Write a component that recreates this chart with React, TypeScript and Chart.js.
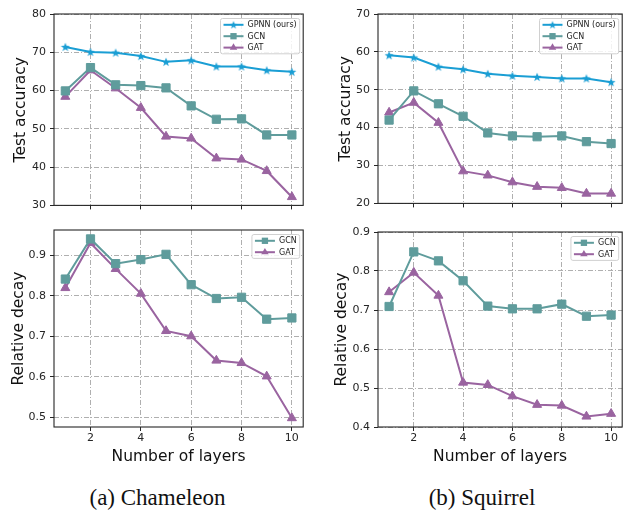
import React, { useEffect, useRef } from 'react';
import { Chart, registerables } from 'chart.js';

Chart.register(...registerables);
Chart.defaults.font.family = '"DejaVu Sans", sans-serif';

// ---------------- data ----------------
const layers = [1, 2, 3, 4, 5, 6, 7, 8, 9, 10];
const xTickValues = [2, 4, 6, 8, 10];

const chamAccGPNN = [71.4, 70.1, 69.9, 69.0, 67.5, 67.9, 66.3, 66.3, 65.3, 64.9];
const chamAccGCN = [59.9, 66.0, 61.5, 61.3, 60.7, 56.0, 52.5, 52.6, 48.4, 48.4];
const chamAccGAT = [58.4, 65.3, 60.6, 55.5, 48.0, 47.5, 42.3, 42.0, 39.0, 32.2];

const sqAccGPNN = [59.1, 58.5, 56.1, 55.4, 54.2, 53.7, 53.4, 53.0, 53.0, 52.0];
const sqAccGCN = [42.0, 49.7, 46.3, 43.0, 38.6, 37.8, 37.6, 37.8, 36.3, 35.8];
const sqAccGAT = [44.0, 46.6, 41.3, 28.5, 27.4, 25.6, 24.4, 24.1, 22.6, 22.6];

const chamDecayGCN = [0.841, 0.94, 0.879, 0.889, 0.902, 0.827, 0.793, 0.796, 0.742, 0.745];
const chamDecayGAT = [0.819, 0.93, 0.866, 0.805, 0.713, 0.7, 0.64, 0.634, 0.601, 0.498];

const sqDecayGCN = [0.709, 0.849, 0.826, 0.775, 0.71, 0.703, 0.703, 0.715, 0.684, 0.687];
const sqDecayGAT = [0.746, 0.796, 0.737, 0.514, 0.508, 0.479, 0.457, 0.455, 0.427, 0.434];

const chamAccTicks = [30, 40, 50, 60, 70, 80];
const sqAccTicks = [20, 30, 40, 50, 60, 70];
const chamDecayTicks = [0.5, 0.6, 0.7, 0.8, 0.9];
const sqDecayTicks = [0.4, 0.5, 0.6, 0.7, 0.8, 0.9];

const seriesLabels = { gpnn: 'GPNN (ours)', gcn: 'GCN', gat: 'GAT' };
const captions = ['(a) Chameleon', '(b) Squirrel'];

// ---------------- styles ----------------
const COLORS = { gpnn: '#1a9ed4', gcn: '#5f9c9c', gat: '#9a64a0' };
const GRID_COLOR = 'rgba(155,155,155,0.8)';
const AXIS_COLOR = '#262626';

function makeStar(color: string, size: number): HTMLCanvasElement {
  const c = document.createElement('canvas');
  c.width = size;
  c.height = size;
  const ctx = c.getContext('2d')!;
  const cx = size / 2;
  const cy = size / 2 + 0.4;
  const R = size / 2 - 0.3;
  const r = R * 0.42;
  ctx.beginPath();
  for (let i = 0; i < 10; i++) {
    const ang = -Math.PI / 2 + (i * Math.PI) / 5;
    const rad = i % 2 === 0 ? R : r;
    const x = cx + rad * Math.cos(ang);
    const y = cy + rad * Math.sin(ang);
    if (i === 0) ctx.moveTo(x, y);
    else ctx.lineTo(x, y);
  }
  ctx.closePath();
  ctx.fillStyle = color;
  ctx.fill();
  return c;
}

const framePlugin = {
  id: 'mplFrame',
  afterDatasetsDraw(chart: any) {
    const { ctx, chartArea: a } = chart;
    ctx.save();
    ctx.strokeStyle = AXIS_COLOR;
    ctx.lineWidth = 1.1;
    ctx.strokeRect(a.left, a.top, a.right - a.left, a.bottom - a.top);
    ctx.restore();
  },
};

function drawMarker(ctx: CanvasRenderingContext2D, style: any, x: number, y: number, color: string, scale: number) {
  ctx.fillStyle = color;
  if (style instanceof HTMLCanvasElement) {
    const w = style.width * scale;
    const h = style.height * scale;
    ctx.drawImage(style, x - w / 2, y - h / 2, w, h);
  } else if (style === 'rect') {
    const s = 7 * scale;
    ctx.fillRect(x - s / 2, y - s / 2, s, s);
  } else if (style === 'triangle') {
    const r = 4.8 * scale;
    ctx.beginPath();
    for (let i = 0; i < 3; i++) {
      const ang = -Math.PI / 2 + (i * 2 * Math.PI) / 3;
      const px = x + r * Math.cos(ang);
      const py = y + r * Math.sin(ang);
      if (i === 0) ctx.moveTo(px, py);
      else ctx.lineTo(px, py);
    }
    ctx.closePath();
    ctx.fill();
  }
}

const legendPlugin = {
  id: 'mplLegend',
  afterDraw(chart: any) {
    const { ctx, chartArea: a } = chart;
    const ds = chart.data.datasets;
    const fs = 8;
    ctx.save();
    ctx.font = `${fs}px "DejaVu Sans"`;
    let tw = 0;
    ds.forEach((d: any) => {
      tw = Math.max(tw, ctx.measureText(d.label).width);
    });
    const padL = 3;
    const handle = 20;
    const gap = 4;
    const padR = 3;
    const rowH = 11.4;
    const w = padL + handle + gap + tw + padR;
    const h = 12.5 + (ds.length - 1) * rowH;
    const x0 = a.right - 3.5 - w;
    const y0 = a.top + 4.5;
    ctx.beginPath();
    if ((ctx as any).roundRect) (ctx as any).roundRect(x0, y0, w, h, 2);
    else ctx.rect(x0, y0, w, h);
    ctx.fillStyle = 'rgba(255,255,255,0.85)';
    ctx.fill();
    ctx.strokeStyle = '#d0d0d0';
    ctx.lineWidth = 1;
    ctx.stroke();
    ds.forEach((d: any, i: number) => {
      const cy = y0 + 6.3 + i * rowH;
      const hx0 = x0 + padL;
      const hx1 = hx0 + handle;
      ctx.strokeStyle = d.borderColor;
      ctx.lineWidth = 2;
      ctx.beginPath();
      ctx.moveTo(hx0, cy);
      ctx.lineTo(hx1, cy);
      ctx.stroke();
      drawMarker(ctx, d.pointStyle, (hx0 + hx1) / 2, cy, d.borderColor, 0.9);
      ctx.fillStyle = '#222';
      ctx.textBaseline = 'middle';
      ctx.textAlign = 'left';
      ctx.fillText(d.label, hx1 + gap, cy + 0.5);
    });
    ctx.restore();
  },
};

type SeriesKey = 'gpnn' | 'gcn' | 'gat';
type PanelCfg = {
  left: number;
  top: number;
  w: number;
  h: number;
  padTop: number;
  padRight: number;
  yWidth: number;
  xHeight: number;
  yTitle: string;
  yTitlePad: number;
  showX: boolean;
  yMin: number;
  yMax: number;
  yTicks: number[];
  decimals: number;
  series: { key: SeriesKey; values: number[] }[];
};

function Panel({ cfg }: { cfg: PanelCfg }) {
  const ref = useRef<HTMLCanvasElement>(null);
  useEffect(() => {
    const star = makeStar(COLORS.gpnn, 10);
    const styleFor = (k: SeriesKey): any => (k === 'gpnn' ? star : k === 'gcn' ? 'rect' : 'triangle');
    const radiusFor = (k: SeriesKey) => (k === 'gpnn' ? 5 : k === 'gcn' ? 5.8 : 5.2);
    const gridBase = {
      color: GRID_COLOR,
      lineWidth: 1,
      drawTicks: true,
      tickLength: 4,
      tickColor: AXIS_COLOR,
      tickWidth: 1,
      tickBorderDash: [],
    };
    const chart = new Chart(ref.current!, {
      type: 'line',
      data: {
        datasets: cfg.series.map((s) => ({
          label: seriesLabels[s.key],
          data: layers.map((x, i) => ({ x, y: s.values[i] })),
          borderColor: COLORS[s.key],
          backgroundColor: COLORS[s.key],
          borderWidth: 2,
          pointStyle: styleFor(s.key),
          pointRadius: radiusFor(s.key),
          pointBackgroundColor: COLORS[s.key],
          pointBorderColor: COLORS[s.key],
          pointBorderWidth: s.key === 'gpnn' ? 0 : 1,
          tension: 0,
          fill: false,
        })),
      },
      options: {
        responsive: false,
        animation: false,
        events: [],
        layout: { padding: { top: cfg.padTop, right: cfg.padRight, left: 0, bottom: 0 } },
        plugins: { legend: { display: false }, tooltip: { enabled: false } },
        scales: {
          x: {
            type: 'linear',
            min: 0.55,
            max: 10.45,
            afterBuildTicks: (s: any) => {
              s.ticks = xTickValues.map((v) => ({ value: v }));
            },
            afterFit: (s: any) => {
              s.height = cfg.xHeight;
            },
            ticks: {
              display: cfg.showX,
              font: { size: 11 },
              color: AXIS_COLOR,
              padding: 1,
              maxRotation: 0,
              autoSkip: false,
              callback: (v: any) => String(v),
            },
            grid: { ...gridBase },
            border: { display: false, dash: [5, 2, 1, 2] },
            title: {
              display: cfg.showX,
              text: 'Number of layers',
              font: { size: 15.5 },
              color: '#111',
              padding: { top: 0, bottom: 0.7 },
            },
          },
          y: {
            type: 'linear',
            min: cfg.yMin,
            max: cfg.yMax,
            afterBuildTicks: (s: any) => {
              s.ticks = cfg.yTicks.map((v) => ({ value: v }));
            },
            afterFit: (s: any) => {
              s.width = cfg.yWidth;
            },
            ticks: {
              font: { size: 11 },
              color: AXIS_COLOR,
              padding: 4,
              autoSkip: false,
              callback: (v: any) => Number(v).toFixed(cfg.decimals),
            },
            grid: { ...gridBase },
            border: { display: false, dash: [5, 2, 1, 2] },
            title: {
              display: true,
              text: cfg.yTitle,
              font: { size: 15.5 },
              color: '#111',
              padding: { top: cfg.yTitlePad, bottom: 0 },
            },
          },
        },
      } as any,
      plugins: [framePlugin, legendPlugin],
    });
    return () => chart.destroy();
  }, [cfg]);
  return (
    <canvas
      ref={ref}
      width={cfg.w}
      height={cfg.h}
      style={{ position: 'absolute', left: cfg.left, top: cfg.top, width: cfg.w, height: cfg.h }}
    />
  );
}

const panels: PanelCfg[] = [
  {
    left: 0, top: 0, w: 310, h: 216, padTop: 14, padRight: 5, yWidth: 54, xHeight: 5,
    yTitle: 'Test accuracy', yTitlePad: 12, showX: false, yMin: 30, yMax: 80, yTicks: chamAccTicks, decimals: 0,
    series: [
      { key: 'gpnn', values: chamAccGPNN },
      { key: 'gcn', values: chamAccGCN },
      { key: 'gat', values: chamAccGAT },
    ],
  },
  {
    left: 0, top: 216, w: 310, h: 251, padTop: 14, padRight: 5, yWidth: 54, xHeight: 40,
    yTitle: 'Relative decay', yTitlePad: 9.5, showX: true, yMin: 0.476, yMax: 0.962, yTicks: chamDecayTicks, decimals: 1,
    series: [
      { key: 'gcn', values: chamDecayGCN },
      { key: 'gat', values: chamDecayGAT },
    ],
  },
  {
    left: 314, top: 0, w: 315, h: 214, padTop: 14, padRight: 1, yWidth: 64, xHeight: 5,
    yTitle: 'Test accuracy', yTitlePad: 22.5, showX: false, yMin: 20, yMax: 70, yTicks: sqAccTicks, decimals: 0,
    series: [
      { key: 'gpnn', values: sqAccGPNN },
      { key: 'gcn', values: sqAccGCN },
      { key: 'gat', values: sqAccGAT },
    ],
  },
  {
    left: 314, top: 218, w: 315, h: 249, padTop: 14, padRight: 1, yWidth: 64, xHeight: 40,
    yTitle: 'Relative decay', yTitlePad: 18.5, showX: true, yMin: 0.4, yMax: 0.9, yTicks: sqDecayTicks, decimals: 1,
    series: [
      { key: 'gcn', values: sqDecayGCN },
      { key: 'gat', values: sqDecayGAT },
    ],
  },
];

export default function App() {
  return (
    <div style={{ position: 'absolute', left: 0, top: 0, width: 629, height: 513, background: '#fff', overflow: 'hidden' }}>
      {panels.map((p, i) => (
        <Panel key={i} cfg={p} />
      ))}
      {captions.map((c, i) => (
        <div
          key={c}
          style={{
            position: 'absolute',
            left: i === 0 ? 0 : 314,
            width: i === 0 ? 315 : 336,
            top: 485,
            textAlign: 'center',
            fontFamily: '"Liberation Serif", "Times New Roman", serif',
            fontSize: 23,
            lineHeight: '26px',
            color: '#111',
          }}
        >
          {c}
        </div>
      ))}
    </div>
  );
}
